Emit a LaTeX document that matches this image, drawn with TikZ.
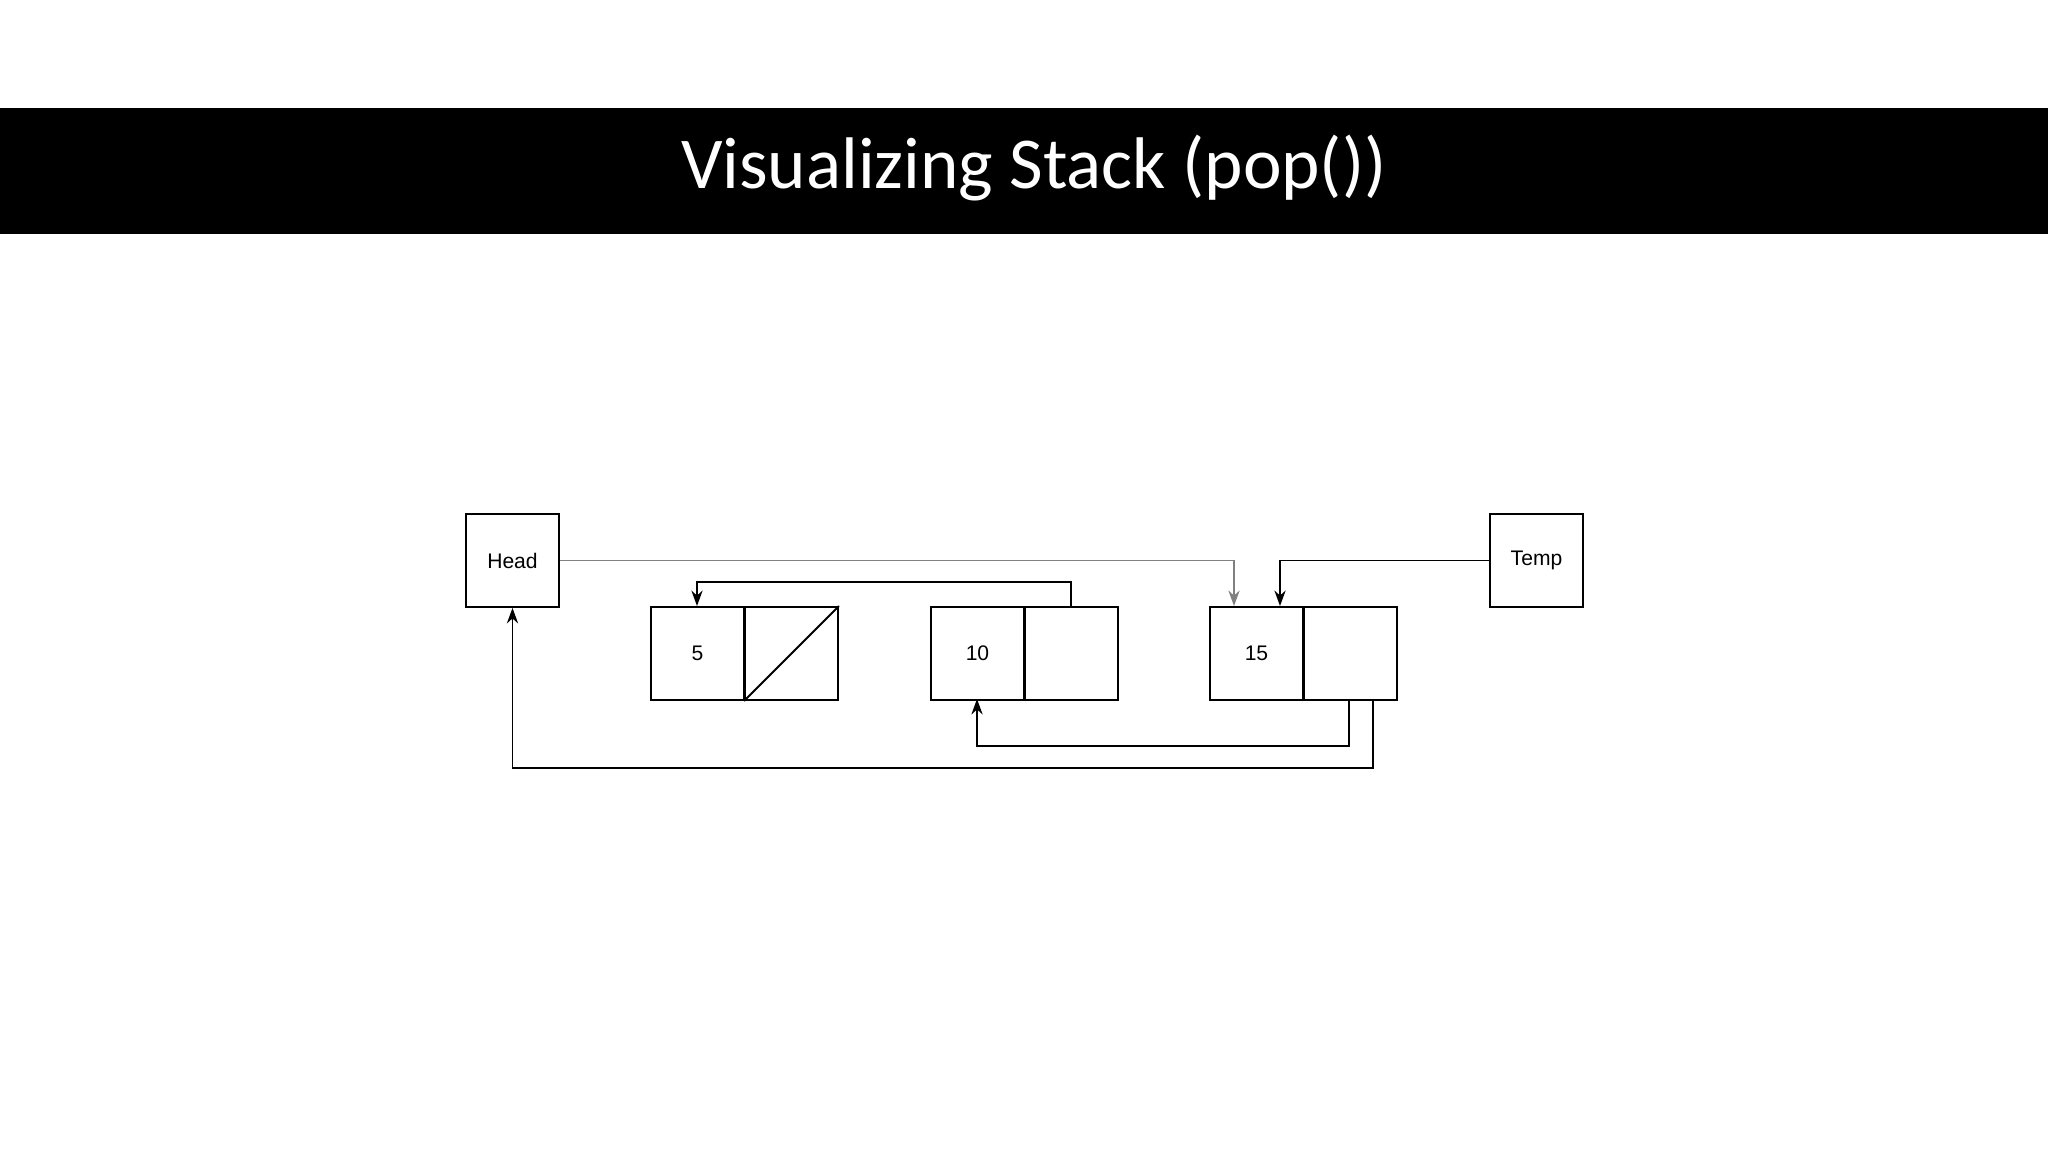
\documentclass[tikz,border=0pt]{standalone}
\usepackage{fontspec}
\setmainfont{Liberation Sans}
\newfontfamily\titlefont{Carlito}
\usetikzlibrary{arrows.meta}
\begin{document}
\begin{tikzpicture}[x=0.05cm,y=-0.05cm,
  box/.style={draw,line width=2.8pt,minimum width=93*0.05cm,minimum height=93*0.05cm,inner sep=0pt,font=\fontsize{30}{34}\selectfont,anchor=north west},
  link/.style={line width=2.8pt,-{Stealth[length=22pt,width=16pt]}}]
\useasboundingbox (0,0) rectangle (2048,1152);
\fill[black] (0,108) rectangle (2048,234);
\node[text=white,font=\titlefont\fontsize{104}{110}\selectfont] (title) at (1034,168) {Visualizing Stack (pop())};
\node[box] (head) at (465,513) {Head};
\node[box] (temp) at (1489,513) {Temp};
\node[box] (d5) at (650,606) {5};
\node[box] (n5) at (744,606) {};
\node[box] (d10) at (930,606) {10};
\node[box] (n10) at (1024,606) {};
\node[box] (d15) at (1209,606) {15};
\node[box] (n15) at (1303,606) {};
\draw[line width=2.8pt] (n5.south west) -- (n5.north east);
\coordinate (h1) at (1234,606);
\coordinate (t1) at (1280,606);
\draw[link,draw=gray,color=gray] (head.east) -| (h1);
\draw[link] (temp.west) -| (t1);
\coordinate (a1) at (1071,606);
\coordinate (a2) at (697,606);
\draw[link] (a1) -- (1071,582) -| (a2);
\coordinate (b1) at (1349,699);
\coordinate (b2) at (977,699);
\draw[link] (b1) -- (1349,746) -| (b2);
\coordinate (c1) at (1373,699);
\draw[link] (c1) -- (1373,768) -| (head.south);
\end{tikzpicture}
\end{document}
